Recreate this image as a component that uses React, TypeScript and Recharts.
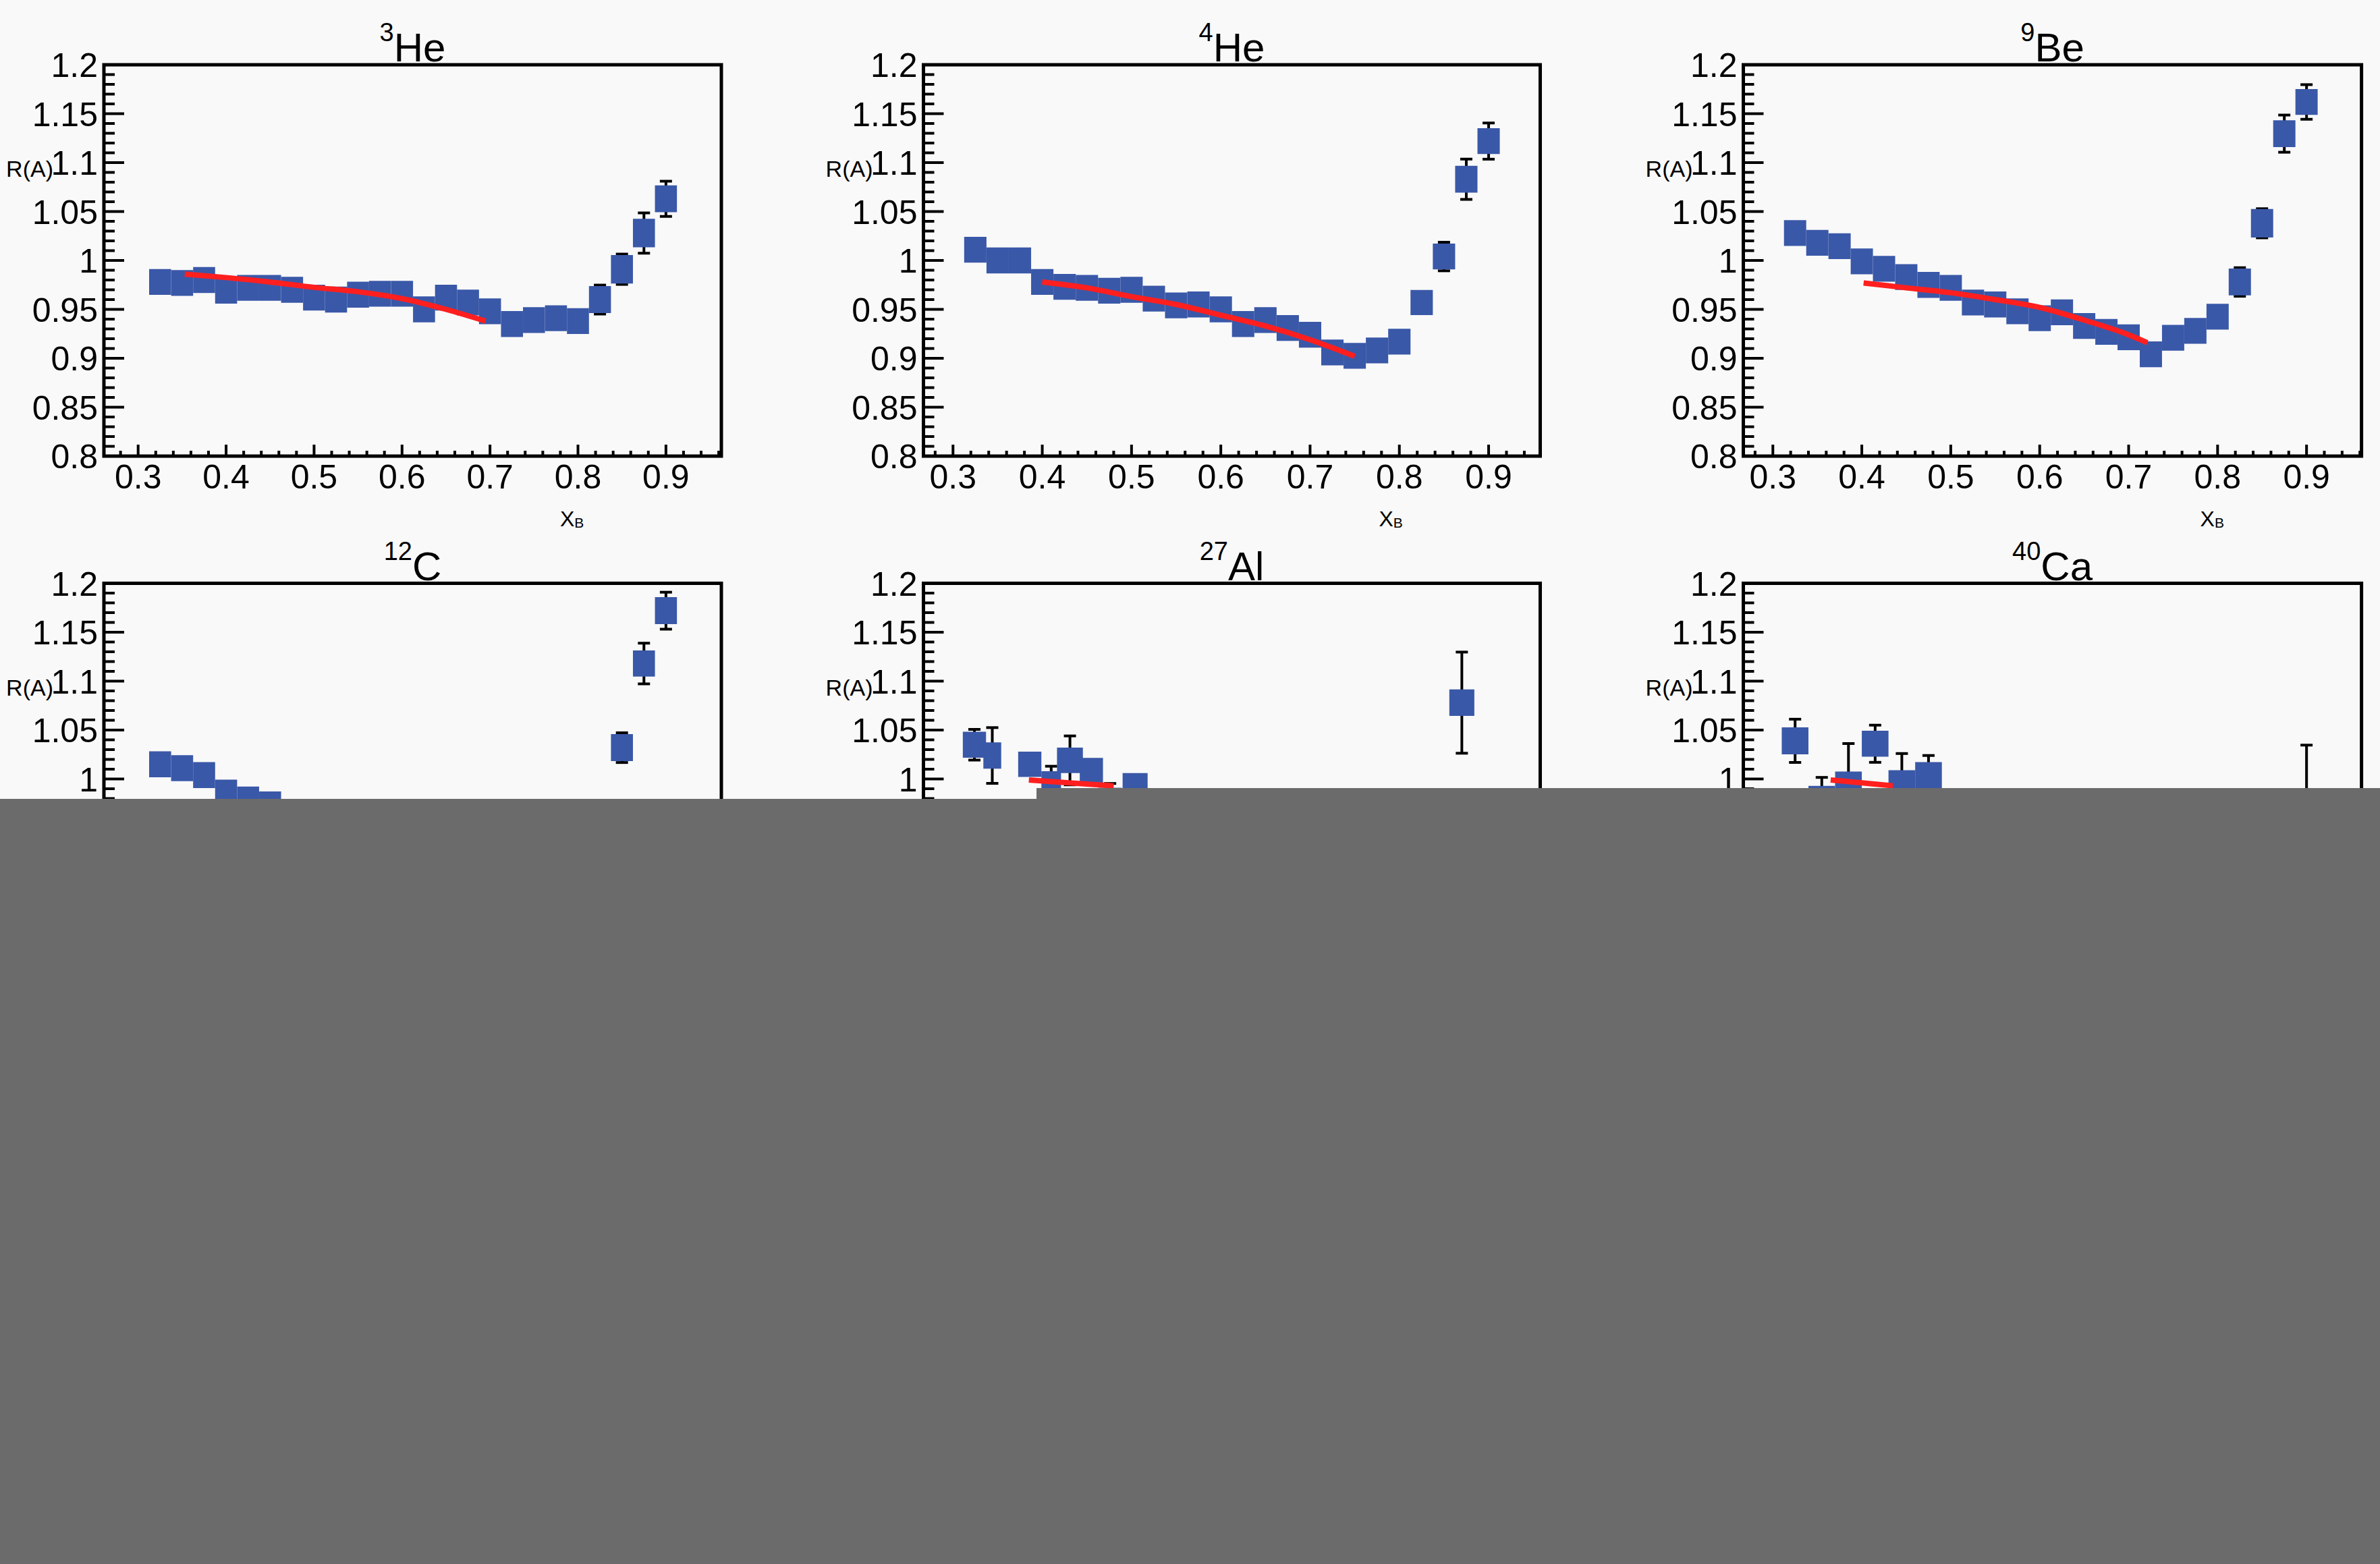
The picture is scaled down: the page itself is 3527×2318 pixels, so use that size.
import React from 'react';
import { ComposedChart, XAxis, YAxis, Scatter, ErrorBar, Line, ReferenceArea } from 'recharts';

const W = 3527;
const H = 2318;
const FONT = '"Liberation Sans", Arial, Helvetica, sans-serif';
const BOX = '#3a58a8';
const FIT = '#ff1f1f';
const BG = '#f9f9f9';
const GRAY = '#6b6b6b';

// ---------- ticks ----------
const xMajorTicks = [0.3, 0.4, 0.5, 0.6, 0.7, 0.8, 0.9];
const xTickLabels = ['0.3', '0.4', '0.5', '0.6', '0.7', '0.8', '0.9'];
const xMinorTicks = [0.28, 0.3, 0.32, 0.34, 0.36, 0.38, 0.4, 0.42, 0.44, 0.46, 0.48, 0.5, 0.52, 0.54, 0.56, 0.58, 0.6,
  0.62, 0.64, 0.66, 0.68, 0.7, 0.72, 0.74, 0.76, 0.78, 0.8, 0.82, 0.84, 0.86, 0.88, 0.9, 0.92, 0.94, 0.96];
const yMajorTicks = [0.8, 0.85, 0.9, 0.95, 1.0, 1.05, 1.1, 1.15, 1.2];
const yTickLabels = ['0.8', '0.85', '0.9', '0.95', '1', '1.05', '1.1', '1.15', '1.2'];
const yMinorTicks = [0.8, 0.81, 0.82, 0.83, 0.84, 0.85, 0.86, 0.87, 0.88, 0.89, 0.9, 0.91, 0.92, 0.93, 0.94, 0.95,
  0.96, 0.97, 0.98, 0.99, 1.0, 1.01, 1.02, 1.03, 1.04, 1.05, 1.06, 1.07, 1.08, 1.09, 1.1, 1.11, 1.12, 1.13, 1.14,
  1.15, 1.16, 1.17, 1.18, 1.19, 1.2];

// ---------- titles ----------
const titleSup = ['3', '4', '9', '12', '27', '40'];
const titleMain = ['He', 'He', 'Be', 'C', 'Al', 'Ca'];

// ---------- data ----------
const binsX = [0.325, 0.35, 0.375, 0.4, 0.425, 0.45, 0.475, 0.5, 0.525, 0.55, 0.575, 0.6, 0.625, 0.65, 0.675, 0.7,
  0.725, 0.75, 0.775, 0.8, 0.825, 0.85, 0.875, 0.9];
const binsEx = [0.0125, 0.0125, 0.0125, 0.0125, 0.0125, 0.0125, 0.0125, 0.0125, 0.0125, 0.0125, 0.0125, 0.0125,
  0.0125, 0.0125, 0.0125, 0.0125, 0.0125, 0.0125, 0.0125, 0.0125, 0.0125, 0.0125, 0.0125, 0.0125];

const he3Y = [0.978, 0.977, 0.98, 0.969, 0.972, 0.972, 0.97, 0.962, 0.96, 0.965, 0.966, 0.966, 0.95, 0.962, 0.957,
  0.948, 0.935, 0.939, 0.941, 0.938, 0.96, 0.991, 1.028, 1.063];
const he3Sys = [0.0132, 0.0132, 0.0132, 0.0132, 0.0132, 0.0132, 0.0132, 0.0132, 0.0132, 0.0132, 0.0132, 0.0132,
  0.0132, 0.0132, 0.0132, 0.0132, 0.0132, 0.0132, 0.0132, 0.0132, 0.0138, 0.0146, 0.0146, 0.0137];
const he3Stat = [0.006, 0.006, 0.006, 0.006, 0.006, 0.006, 0.006, 0.006, 0.006, 0.006, 0.006, 0.006, 0.006, 0.006,
  0.006, 0.006, 0.006, 0.006, 0.006, 0.006, 0.0148, 0.0155, 0.0206, 0.018];
const he3FitX = [0.353, 0.4, 0.45, 0.5, 0.55, 0.6, 0.65, 0.695];
const he3FitY = [0.986, 0.9825, 0.978, 0.9725, 0.968, 0.961, 0.95, 0.938];

const he4Y = [1.011, 1.0, 1.0, 0.978, 0.973, 0.972, 0.969, 0.97, 0.961, 0.954, 0.955, 0.95, 0.935, 0.939, 0.931,
  0.924, 0.906, 0.9025, 0.908, 0.917, 0.957, 1.004, 1.083, 1.122];
const he4Sys = [0.0132, 0.0132, 0.0132, 0.0132, 0.0132, 0.0132, 0.0132, 0.0132, 0.0132, 0.0132, 0.0132, 0.0132,
  0.0132, 0.0132, 0.0132, 0.0132, 0.0132, 0.0132, 0.0132, 0.0132, 0.0129, 0.0132, 0.0137, 0.0132];
const he4Stat = [0.006, 0.006, 0.006, 0.006, 0.006, 0.006, 0.006, 0.006, 0.006, 0.006, 0.006, 0.006, 0.006, 0.006,
  0.006, 0.006, 0.006, 0.006, 0.006, 0.006, 0.006, 0.0146, 0.0206, 0.0185];
const he4FitX = [0.4, 0.45, 0.5, 0.55, 0.6, 0.65, 0.7, 0.75];
const he4FitY = [0.978, 0.972, 0.963, 0.955, 0.944, 0.933, 0.919, 0.902];

const be9Y = [1.028, 1.018, 1.0145, 0.999, 0.9915, 0.983, 0.975, 0.972, 0.957, 0.955, 0.948, 0.941, 0.947, 0.933,
  0.927, 0.9215, 0.904, 0.921, 0.928, 0.9425, 0.978, 1.038, 1.1296, 1.162];
const be9Sys = [0.0132, 0.0132, 0.0132, 0.0132, 0.0132, 0.0132, 0.0132, 0.0132, 0.0132, 0.0132, 0.0132, 0.0132,
  0.0132, 0.0132, 0.0132, 0.0132, 0.0132, 0.0132, 0.0132, 0.0132, 0.0137, 0.0146, 0.0137, 0.0132];
const be9Stat = [0.006, 0.006, 0.006, 0.006, 0.006, 0.006, 0.006, 0.006, 0.006, 0.006, 0.006, 0.006, 0.006, 0.006,
  0.006, 0.006, 0.006, 0.006, 0.006, 0.006, 0.0146, 0.0149, 0.019, 0.0177];
const be9FitX = [0.402, 0.45, 0.5, 0.55, 0.6, 0.65, 0.7, 0.721];
const be9FitY = [0.977, 0.972, 0.967, 0.96, 0.952, 0.939, 0.924, 0.916];

const c12X = [0.325, 0.35, 0.375, 0.4, 0.425, 0.45, 0.85, 0.875, 0.9];
const c12Ex = [0.0125, 0.0125, 0.0125, 0.0125, 0.0125, 0.0125, 0.0125, 0.0125, 0.0125];
const c12Y = [1.015, 1.011, 1.004, 0.986, 0.979, 0.974, 1.032, 1.118, 1.172];
const c12Sys = [0.0133, 0.0133, 0.0133, 0.0133, 0.0133, 0.0133, 0.0138, 0.0133, 0.0138];
const c12Stat = [0.006, 0.006, 0.006, 0.006, 0.006, 0.006, 0.0152, 0.0208, 0.0189];
const c12FitX: number[] = [];
const c12FitY: number[] = [];

const al27X = [0.324, 0.344, 0.386, 0.41, 0.431, 0.455, 0.476, 0.504, 0.87];
const al27Ex = [0.013, 0.01, 0.013, 0.011, 0.0145, 0.013, 0.013, 0.014, 0.014];
const al27Y = [1.035, 1.024, 1.015, 0.995, 1.019, 1.0085, 0.978, 0.993, 1.078];
const al27Sys = [0.0133, 0.0134, 0.013, 0.013, 0.013, 0.013, 0.013, 0.013, 0.0135];
const al27Stat = [0.0157, 0.0285, 0.006, 0.018, 0.025, 0.006, 0.0174, 0.006, 0.0517];
const al27FitX = [0.385, 0.43, 0.48];
const al27FitY = [0.999, 0.996, 0.993];

const ca40X = [0.325, 0.355, 0.385, 0.415, 0.445, 0.475, 0.9];
const ca40Ex = [0.015, 0.015, 0.015, 0.015, 0.015, 0.015, 0.015];
const ca40Y = [1.039, 0.98, 0.9946, 1.036, 0.996, 1.004, 0.955];
const ca40Sys = [0.0138, 0.013, 0.013, 0.0133, 0.013, 0.0133, 0.013];
const ca40Stat = [0.0221, 0.0216, 0.0416, 0.019, 0.03, 0.02, 0.0796];
const ca40FitX = [0.365, 0.4, 0.435];
const ca40FitY = [0.999, 0.996, 0.993];

// ---------- layout ----------
const columns = [
  { l: 154, r: 1069, xDomain: [0.2611, 0.963] },
  { l: 1368.5, r: 2282.5, xDomain: [0.2669, 0.9578] },
  { l: 2583.5, r: 3499.6, xDomain: [0.2668, 0.9618] },
];
const rows = [{ t: 96, b: 676 }, { t: 864.5, b: 1444.5 }];

type Pt = { x: number; y: number; ex: number; sys: number; err: number };
const mkPts = (xs: number[], ex: number[], ys: number[], sys: number[], st: number[]): Pt[] =>
  xs.map((x, i) => ({ x, y: ys[i], ex: ex[i], sys: sys[i], err: st[i] }));
const mkFit = (xs: number[], ys: number[]) => xs.map((x, i) => ({ x, y: ys[i] }));

const panels = [
  { col: 0, row: 0, pts: mkPts(binsX, binsEx, he3Y, he3Sys, he3Stat), fit: mkFit(he3FitX, he3FitY) },
  { col: 1, row: 0, pts: mkPts(binsX, binsEx, he4Y, he4Sys, he4Stat), fit: mkFit(he4FitX, he4FitY) },
  { col: 2, row: 0, pts: mkPts(binsX, binsEx, be9Y, be9Sys, be9Stat), fit: mkFit(be9FitX, be9FitY) },
  { col: 0, row: 1, pts: mkPts(c12X, c12Ex, c12Y, c12Sys, c12Stat), fit: mkFit(c12FitX, c12FitY) },
  { col: 1, row: 1, pts: mkPts(al27X, al27Ex, al27Y, al27Sys, al27Stat), fit: mkFit(al27FitX, al27FitY) },
  { col: 2, row: 1, pts: mkPts(ca40X, ca40Ex, ca40Y, ca40Sys, ca40Stat), fit: mkFit(ca40FitX, ca40FitY) },
];

const near = (a: number, b: number) => Math.abs(a - b) < 1e-6;

function XTick(props: any) {
  const { x, y, payload } = props;
  const mi = xMajorTicks.findIndex((m) => near(m, payload.value));
  const major = mi >= 0;
  return (
    <g>
      <line x1={x} x2={x} y1={y} y2={y - (major ? 17 : 8)} stroke="#000" strokeWidth={4} />
      {major && (
        <text x={x} y={y + 48} textAnchor="middle" fontSize={50} fontFamily={FONT} fill="#000">
          {xTickLabels[mi]}
        </text>
      )}
    </g>
  );
}

function YTick(props: any) {
  const { x, y, payload } = props;
  const mi = yMajorTicks.findIndex((m) => near(m, payload.value));
  const major = mi >= 0;
  return (
    <g>
      <line x1={x} x2={x + (major ? 30 : 16)} y1={y} y2={y} stroke="#000" strokeWidth={4} />
      {major && (
        <text x={x - 9} y={y + 18} textAnchor="end" fontSize={50} fontFamily={FONT} fill="#000">
          {yTickLabels[mi]}
        </text>
      )}
    </g>
  );
}

function Panel({ p }: { p: (typeof panels)[number] }) {
  const c = columns[p.col];
  const r = rows[p.row];
  const YW = 60;
  const XH = 60;
  const margin = { top: r.t, left: c.l - YW, right: W - c.r, bottom: H - r.b - XH };
  const xTicks = xMinorTicks.filter((v) => v >= c.xDomain[0] - 1e-9 && v <= c.xDomain[1] + 1e-9);
  return (
    <div style={{ position: 'absolute', left: 0, top: 0, width: W, height: H }}>
      <ComposedChart width={W} height={H} margin={margin}>
        <Scatter data={p.pts} dataKey="y" shape={() => <g />} isAnimationActive={false} zIndex={100}>
          <ErrorBar dataKey="err" direction="y" width={9} stroke="#000" strokeWidth={4} isAnimationActive={false} zIndex={100} />
        </Scatter>
        {p.pts.map((d, i) => (
          <ReferenceArea
            key={`b${i}`}
            x1={d.x - d.ex}
            x2={d.x + d.ex}
            y1={d.y - d.sys}
            y2={d.y + d.sys}
            fill={BOX}
            fillOpacity={1}
            stroke="none"
            ifOverflow="visible"
            zIndex={200}
          />
        ))}
        {p.fit.length > 0 && (
          <Line
            data={p.fit}
            dataKey="y"
            type="monotone"
            stroke={FIT}
            strokeWidth={8}
            dot={false}
            activeDot={false}
            isAnimationActive={false}
            zIndex={300}
          />
        )}
        <ReferenceArea
          x1={c.xDomain[0]}
          x2={c.xDomain[1]}
          y1={0.8}
          y2={1.2}
          fill="none"
          fillOpacity={0}
          stroke="#000"
          strokeWidth={5}
          ifOverflow="visible"
          zIndex={400}
        />
        <XAxis
          type="number"
          dataKey="x"
          domain={c.xDomain}
          allowDataOverflow
          ticks={xTicks}
          interval={0}
          tick={(tp: any) => <XTick {...tp} />}
          tickLine={false}
          axisLine={false}
          tickSize={0}
          tickMargin={0}
          height={XH}
        />
        <YAxis
          type="number"
          dataKey="y"
          domain={[0.8, 1.2]}
          allowDataOverflow
          ticks={yMinorTicks}
          interval={0}
          tick={(tp: any) => <YTick {...tp} />}
          tickLine={false}
          axisLine={false}
          tickSize={0}
          tickMargin={0}
          width={YW}
        />
      </ComposedChart>
    </div>
  );
}

function Labels() {
  return (
    <svg width={W} height={H} style={{ position: 'absolute', left: 0, top: 0 }} fontFamily={FONT}>
      {panels.map((p, i) => {
        const c = columns[p.col];
        const r = rows[p.row];
        const cx = (c.l + c.r) / 2;
        return (
          <g key={i} fill="#000">
            <text x={cx} y={r.t - 5} textAnchor="middle">
              <tspan fontSize={38} dy={-30}>{titleSup[i]}</tspan>
              <tspan fontSize={60} dy={30}>{titleMain[i]}</tspan>
            </text>
            <text x={c.l - 75} y={r.t + 166} textAnchor="end" fontSize={34}>R(A)</text>
            <text x={c.r - 239} y={r.b + 104} fontSize={32}>
              X<tspan fontSize={21} dy={2}>B</tspan>
            </text>
          </g>
        );
      })}
    </svg>
  );
}

export default function App() {
  return (
    <div style={{ position: 'absolute', left: 0, top: 0, width: W, height: H, background: BG, overflow: 'hidden' }}>
      {panels.map((p, i) => (
        <Panel key={i} p={p} />
      ))}
      <Labels />
      <div style={{ position: 'absolute', left: 0, top: 1184, width: 1536, height: H - 1184, background: GRAY }} />
      <div style={{ position: 'absolute', left: 1536, top: 1168, width: W - 1536, height: H - 1168, background: GRAY }} />
    </div>
  );
}
